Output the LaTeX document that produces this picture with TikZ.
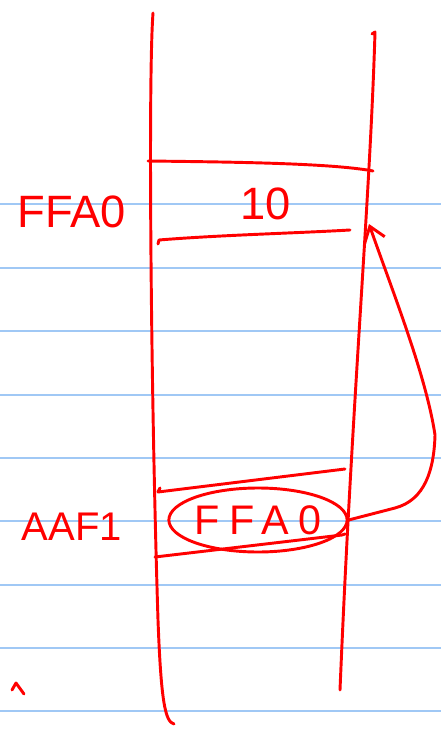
\documentclass[tikz,border=0pt]{standalone}
\usepackage{fontspec}
\setmainfont{Liberation Sans}
\newfontfamily\widefont[LetterSpace=22]{Liberation Sans}
\usetikzlibrary{calc, shapes.geometric, positioning, arrows.meta}
\definecolor{paperline}{RGB}{160,200,245}
\definecolor{ink}{RGB}{255,0,0}

\begin{document}
\begin{tikzpicture}[x=0.75pt,y=-0.75pt,
  inkline/.style={ink,line width=2.2pt,line cap=round,line join=round},
  memtext/.style={text=ink,inner sep=0pt,font=\fontsize{34}{40}\selectfont}]
\useasboundingbox (0,0) rectangle (441,730);
\fill[white] (0,0) rectangle (441,730);
\foreach \y in {204,268,331,395,458,521,585,648,711} \draw[paperline,line width=1.3pt] (0,\y) -- (441,\y);
\draw[inkline] (153,13) .. controls (148,80) and (151,400) .. (158,620) .. controls (161,700) and (165,722) .. (174,724);
\draw[inkline] (372,34) -- (375,32) .. controls (370,200) and (352,400) .. (340,690);
\draw[inkline] (148,161) .. controls (230,162) and (330,163) .. (373,171);
\draw[inkline] (158,244) -- (159,240) .. controls (220,235) and (300,233) .. (350,230);
\draw[inkline] (160,488) -- (158,492) -- (345,469);
\draw[inkline] (155,557) -- (342,535) -- (345,534);
\node[memtext] (valTen) at (266,204) {10};
\node[memtext] (addrTen) at (72,212) {FFA0};
\node[memtext,font=\fontsize{30}{36}\selectfont] (addrPtr) at (72,527) {AAF1};
\node[ellipse,draw=ink,line width=2.2pt,minimum width=128pt,minimum height=48pt,inner sep=0pt,
  text=ink,font=\widefont\fontsize{31}{36}\selectfont] (ptrVal) at (258,520) {FFA0};
\coordinate (tenTip) at (369,224);
\draw[inkline,-{Straight Barb[length=11pt,width=16pt,line width=2.2pt]}] (ptrVal.east) -- (395,508) .. controls (425,500) and (434,470) .. (435,435) .. controls (426,375) and (392,290) .. (tenTip);
\draw[inkline] (12,690) -- (16,683) -- (24,694);
\end{tikzpicture}
\end{document}
